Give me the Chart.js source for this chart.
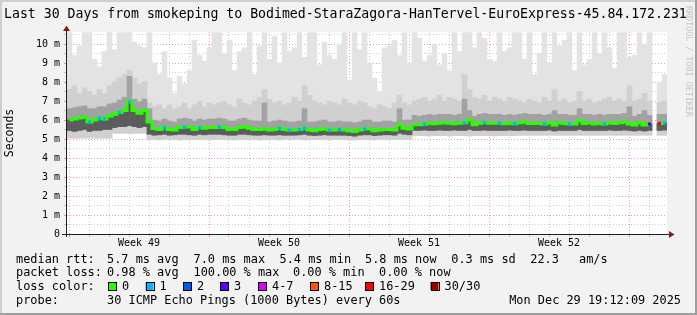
<!DOCTYPE html>
<html><head><meta charset="utf-8">
<script src="https://cdn.jsdelivr.net/npm/chart.js@4.4.1/dist/chart.umd.min.js"></script>
<style>html,body{margin:0;padding:0;background:#f2f2f2;overflow:hidden}canvas{display:block}</style>
</head><body>
<canvas id="c" width="697" height="315"></canvas>
<script>
// ---------- data ----------
const titleText = 'Last 30 Days from smokeping to Bodimed-StaraZagora-HanTervel-EuroExpress-45.84.172.231';
const weekLabels = ['Week 49', 'Week 50', 'Week 51', 'Week 52'];
const weekLabelPos = [3.6, 10.6, 17.6, 24.6];           // days from graph start
const dayGrid = [0.1,1.1,2.1,3.1,4.1,5.1,6.1,7.1,8.1,9.1,10.1,11.1,12.1,13.1,14.1,15.1,16.1,17.1,18.1,19.1,20.1,21.1,22.1,23.1,24.1,25.1,26.1,27.1,28.1,29.1];
const weekGrid = [0.1, 7.1, 14.1, 21.1, 28.1];
const yTicks = [0,0.5,1,1.5,2,2.5,3,3.5,4,4.5,5,5.5,6,6.5,7,7.5,8,8.5,9,9.5,10,10.5];
const binDays = 0.25; // each bin = 6 hours

// median rtt (ms) per bin
const median = [
 6.0, 6.05, 6.1, 6.15, 5.9, 6.0, 6.1, 6.05, 6.2, 6.3,
 6.4, 6.5, 6.95, 6.5, 6.35, 6.5, 5.9, 5.55, 5.5, 5.6,
 5.5, 5.47, 5.6, 5.63, 5.63, 5.5, 5.6, 5.56, 5.6, 5.6,
 5.63, 5.6, 5.5, 5.5, 5.6, 5.63, 5.56, 5.5, 5.5, 5.53,
 5.47, 5.5, 5.56, 5.5, 5.47, 5.47, 5.5, 5.56, 5.47, 5.43,
 5.5, 5.53, 5.47, 5.47, 5.5, 5.47, 5.43, 5.4, 5.47, 5.53,
 5.53, 5.43, 5.47, 5.5, 5.5, 5.47, 5.75, 5.56, 5.53, 5.75,
 5.75, 5.77, 5.83, 5.8, 5.83, 5.85, 5.83, 5.8, 5.83, 5.85,
 6.0, 5.75, 5.83, 5.88, 5.83, 5.83, 5.83, 5.8, 5.83, 5.8,
 5.85, 5.9, 5.82, 5.82, 5.82, 5.79, 5.85, 5.74, 5.85, 5.82,
 5.79, 5.79, 5.96, 5.82, 5.85, 5.79, 5.82, 5.79, 5.85, 5.82,
 5.85, 5.9, 5.79, 5.74, 5.85, 5.74, 5.79, null, 5.82, 5.85];

// lost pings (of 30) per bin
const lossCount = [
 0,0,0,0,1,0,1,1,0,0,
 1,0,1,0,0,0,0,0,0,1,
 0,0,0,1,0,0,1,0,0,0,
 1,0,0,0,0,0,0,0,0,0,
 0,0,1,0,1,0,1,1,0,0,
 0,0,1,0,1,0,0,0,0,1,
 0,0,0,0,0,0,0,0,0,0,
 0,1,0,0,0,0,0,0,0,1,
 0,0,0,1,0,0,1,0,0,1,
 0,0,0,0,0,1,0,0,0,0,
 1,0,0,0,0,0,0,1,0,0,
 0,0,0,0,0,0,3,0,20,1];

// smoke: min / lower dark edge / upper dark edge / upper mid edge / max (ms)
const smokeMin = [
 5.05,5.05,5.05,5.05,5.05,5.05,5.05,5.05,5.05,5.3,
 5.3,5.3,5.3,5.3,5.3,5.3,4.97,4.97,4.95,4.97,
 4.97,4.97,4.95,4.97,4.97,4.97,4.97,4.97,4.95,4.97,
 4.97,4.97,4.97,4.95,4.97,4.97,4.97,4.97,4.95,4.97,
 4.97,4.97,4.95,4.97,4.97,4.97,4.97,4.95,4.97,4.97,
 4.97,4.97,4.95,4.97,4.97,4.97,4.95,4.95,4.97,4.97,
 4.97,4.95,4.97,4.97,4.97,4.97,4.97,4.97,4.97,5.18,
 5.18,5.18,5.16,5.18,5.18,5.18,5.16,5.18,5.18,5.18,
 5.16,5.18,5.18,5.18,5.18,5.16,5.18,5.18,5.18,5.18,
 5.2,5.2,5.2,5.2,5.2,5.2,5.2,5.2,5.2,5.2,
 5.2,5.2,5.2,5.2,5.2,5.2,5.2,5.2,5.2,5.2,
 5.2,5.2,5.2,5.2,5.2,5.2,5.2,null,5.2,5.2];
const smokeLower = [
 5.45,5.4,5.45,5.5,5.4,5.45,5.45,5.5,5.5,5.6,
 5.65,5.65,5.7,5.65,5.6,5.65,5.25,5.2,5.22,5.25,
 5.2,5.22,5.25,5.25,5.22,5.2,5.25,5.22,5.25,5.25,
 5.25,5.22,5.2,5.2,5.25,5.25,5.22,5.2,5.2,5.22,
 5.2,5.2,5.22,5.2,5.2,5.2,5.22,5.25,5.2,5.18,
 5.2,5.22,5.2,5.2,5.2,5.2,5.18,5.15,5.2,5.22,
 5.22,5.18,5.2,5.22,5.22,5.2,5.3,5.25,5.22,5.45,
 5.45,5.47,5.45,5.45,5.47,5.45,5.45,5.47,5.45,5.45,
 5.5,5.45,5.45,5.47,5.45,5.45,5.45,5.45,5.47,5.45,
 5.45,5.47,5.45,5.45,5.45,5.45,5.47,5.42,5.45,5.45,
 5.45,5.45,5.5,5.45,5.45,5.45,5.45,5.45,5.47,5.45,
 5.45,5.47,5.45,5.42,5.45,5.42,5.45,null,5.45,5.47];
const smokeUpper = [
 6.6,6.65,6.7,6.75,6.6,6.6,6.7,6.7,6.85,6.9,
 7.05,7.2,8.3,7.1,6.95,7.1,6.6,6.0,5.95,6.05,
 5.95,5.9,6.05,6.1,6.05,5.95,6.05,6.0,6.05,6.05,
 6.1,6.05,5.95,5.95,6.05,6.1,6.0,5.95,5.95,6.9,
 5.9,5.95,6.0,5.95,5.9,5.9,5.95,6.6,5.9,5.9,
 5.95,6.0,5.9,5.9,5.95,5.9,5.9,5.85,5.9,6.0,
 6.0,5.9,5.9,5.95,5.95,5.9,6.6,6.0,6.0,6.25,
 6.2,6.25,6.3,6.25,6.3,6.3,6.3,6.25,6.3,7.1,
 6.5,6.2,6.3,6.35,6.3,6.3,6.3,6.25,6.3,6.25,
 6.3,6.35,6.3,6.3,6.3,6.25,6.3,6.5,6.3,6.3,
 6.25,6.25,6.6,6.3,6.3,6.25,6.3,6.25,6.3,6.3,
 6.3,6.35,6.7,6.2,6.3,6.5,6.25,null,6.3,6.3];
const smokeHigh = [
 7.6,7.8,7.4,7.7,7.5,7.3,7.6,7.4,7.8,8.0,
 8.2,8.4,8.6,8.2,7.9,8.0,6.9,6.7,6.8,6.6,
 6.8,6.6,6.7,6.9,6.6,6.8,7.0,6.7,6.9,6.8,
 6.9,7.0,6.8,6.7,7.1,6.9,6.8,7.0,7.2,7.6,
 7.1,6.9,7.0,6.8,6.9,7.2,7.0,7.8,7.3,7.0,
 6.9,6.8,7.0,6.9,6.8,7.1,6.9,6.8,7.0,6.9,
 6.7,6.6,6.8,6.7,6.6,6.9,7.3,6.9,6.8,7.0,
 7.1,7.2,7.0,7.1,7.3,7.0,7.2,7.1,7.0,8.4,
 7.6,7.2,7.1,7.3,7.0,7.2,7.1,7.0,7.2,7.1,
 7.0,6.9,7.1,7.0,6.9,7.2,7.0,7.6,7.0,7.1,
 6.9,7.0,7.5,7.0,7.1,6.9,7.0,7.1,7.2,7.0,
 7.1,7.0,7.8,7.0,7.1,7.4,7.0,null,6.9,7.0];
const smokeMax = [
 10.6,9.4,9.9,10.6,10.6,9.2,8.8,9.6,10.6,9.7,
 10.6,10.6,10.6,10.1,9.9,9.8,10.6,9.0,8.4,9.6,
 8.2,7.4,8.3,7.9,8.6,10.2,9.4,9.1,9.8,10.6,
 10.6,9.5,10.2,8.6,9.6,9.8,10.6,8.4,9.9,10.6,
 9.2,10.4,9.0,10.6,9.6,9.8,10.6,9.3,10.6,10.6,
 8.9,10.1,9.4,9.2,10.0,10.6,8.1,10.6,9.7,10.6,
 9.0,8.2,7.5,9.8,9.9,10.2,9.4,10.6,9.0,10.6,
 10.3,9.1,9.4,10.0,8.9,9.5,8.6,10.6,9.6,10.6,
 10.6,9.8,10.6,10.3,9.2,9.1,10.6,9.6,9.8,10.6,
 10.6,9.2,10.6,8.4,9.5,10.6,9.0,10.6,9.9,10.2,
 10.6,8.6,10.6,8.9,9.2,10.6,9.5,10.6,9.8,8.7,
 10.6,10.6,9.3,9.4,10.6,10.0,10.6,null,8.0,8.4];

const lossLegend = ['0', '1', '2', '3', '4-7', '8-15', '16-29', '30/30'];
const lossColors = ['#26ff00', '#00b8ff', '#0059ff', '#5e00ff', '#dd00ff', '#ff5500', '#ff0000', '#a10000'];
const statsRtt = ['5.7 ms avg', '7.0 ms max', '5.4 ms min', '5.8 ms now', '0.3 ms sd', '22.3', 'am/s'];
const statsLoss = ['0.98 % avg', '100.00 % max', '0.00 % min', '0.00 % now'];
const probeText = '30 ICMP Echo Pings (1000 Bytes) every 60s';
const stampText = 'Mon Dec 29 19:12:09 2025';

// ---------- helpers ----------
const MONO = 'DejaVu Sans Mono';
const binX = i => (i + 0.5) * binDays;
function lossClass(n) {
  if (n <= 3) return n;
  if (n <= 7) return 4;
  if (n <= 15) return 5;
  if (n <= 29) return 6;
  return 7;
}
const range = (lo, hi) => lo.map((v, i) => ({x: binX(i), y: (v == null || hi[i] == null) ? null : [v, hi[i]]}));
const barBase = {type: 'bar', grouped: false, barThickness: 5, borderWidth: 0, inflateAmount: 0.3};

const lossPts = median.map((v, i) => ({x: binX(i), y: (v != null && lossCount[i] > 0) ? v : null}));
const lossPtColors = lossCount.map(n => lossColors[lossClass(n)]);

const MGRID = 'rgba(222,79,79,0.55)';
const GRID = 'rgba(143,143,143,0.45)';
const tv = c => (c && c.tick) ? c.tick.value : NaN;
const isWeek = v => weekGrid.some(w => Math.abs(w - v) < 1e-6);
const isInt = v => Math.abs(v - Math.round(v)) < 1e-6;

const deco = {
  id: 'deco',
  beforeDraw(chart) {
    const ctx = chart.ctx, a = chart.chartArea;
    ctx.save();
    ctx.fillStyle = '#f2f2f2';
    ctx.fillRect(0, 0, 697, 315);
    ctx.fillStyle = '#cfcfcf';
    ctx.fillRect(0, 0, 697, 2);
    ctx.fillRect(0, 0, 2, 315);
    ctx.fillStyle = '#9e9e9e';
    ctx.fillRect(0, 313, 697, 2);
    ctx.fillRect(695, 0, 2, 315);
    ctx.fillStyle = '#ffffff';
    ctx.fillRect(a.left, a.top, a.right - a.left, a.bottom - a.top);
    ctx.restore();
  },
  afterDraw(chart) {
    const ctx = chart.ctx, a = chart.chartArea;
    ctx.save();
    ctx.fillStyle = '#1f1f1f';
    ctx.fillRect(a.left - 1, 30, 1, a.bottom - 30 + 3);
    ctx.fillRect(a.left - 5, a.bottom, a.right - a.left + 7, 1);
    ctx.fillStyle = '#801f1f';
    ctx.beginPath();
    ctx.moveTo(a.left - 0.5, 25.5); ctx.lineTo(a.left + 3, 31); ctx.lineTo(a.left - 4, 31); ctx.closePath(); ctx.fill();
    ctx.beginPath();
    ctx.moveTo(a.right + 7.5, a.bottom + 0.5); ctx.lineTo(a.right + 2, a.bottom - 3); ctx.lineTo(a.right + 2, a.bottom + 4); ctx.closePath(); ctx.fill();
    ctx.fillStyle = '#000';
    ctx.textBaseline = 'alphabetic';
    ctx.textAlign = 'left';
    ctx.font = '13.2px "' + MONO + '"';
    ctx.fillText(titleText, 4, 18.3);
    ctx.save();
    ctx.translate(686, 6);
    ctx.rotate(Math.PI / 2);
    ctx.fillStyle = '#c4c4c4';
    ctx.font = '8.4px "' + MONO + '"';
    ctx.fillText('RRDTOOL / TOBI OETIKER', 0, 0);
    ctx.restore();
    ctx.font = '11.9px "' + MONO + '"';
    ctx.fillStyle = '#000';
    const rows = [262.5, 276.3, 290, 303.8];
    ctx.fillText('median rtt:', 16, rows[0]);
    const rttX = [107, 193.5, 279.5, 365, 451.3, 530.3, 579];
    statsRtt.forEach((t, i) => ctx.fillText(t, rttX[i], rows[0]));
    ctx.fillText('packet loss:', 16, rows[1]);
    const lossX = [107, 193.5, 293, 379];
    statsLoss.forEach((t, i) => ctx.fillText(t, lossX[i], rows[1]));
    ctx.fillText('loss color:', 16, rows[2]);
    const sqX = [108, 145.5, 183, 220, 258, 310, 365, 430.5];
    lossLegend.forEach((t, i) => {
      ctx.fillStyle = lossColors[i];
      ctx.fillRect(sqX[i], 282, 8, 8);
      ctx.strokeStyle = '#000';
      ctx.lineWidth = 1;
      ctx.strokeRect(Math.round(sqX[i]) + 0.5, 282.5, 8, 8);
      ctx.fillStyle = '#000';
      ctx.fillText(t, sqX[i] + 14, rows[2]);
    });
    ctx.fillText('probe:', 16, rows[3]);
    ctx.fillText(probeText, 107, rows[3]);
    ctx.textAlign = 'right';
    ctx.fillText(stampText, 681, rows[3]);
    ctx.restore();
  }
};

new Chart(document.getElementById('c'), {
  type: 'bar',
  data: {
    datasets: [
      Object.assign({}, barBase, {label: 'smoke max', data: range(smokeMin, smokeMax), backgroundColor: '#e3e3e3', order: 10}),
      Object.assign({}, barBase, {label: 'smoke mid', data: range(smokeMin, smokeHigh), backgroundColor: '#d0d0d0', order: 9}),
      Object.assign({}, barBase, {label: 'smoke core', data: range(smokeLower, smokeUpper), backgroundColor: '#a2a2a2', order: 8}),
      Object.assign({}, barBase, {label: 'smoke low core', data: range(smokeLower, median), backgroundColor: '#5c5c5c', order: 7}),
      {type: 'line', label: 'median rtt', data: median.map((v, i) => ({x: binX(i), y: v})),
       borderColor: '#26ff00', borderWidth: 3, pointRadius: 0, stepped: 'middle', spanGaps: false, order: 2},
      {type: 'line', label: 'loss', data: lossPts, showLine: false, pointStyle: 'rect',
       pointRadius: 2.2, pointBorderWidth: 0, pointBackgroundColor: lossPtColors, order: 1}
    ]
  },
  options: {
    responsive: false,
    animation: false,
    devicePixelRatio: 1,
    layout: {padding: {left: 4, right: 30, top: 32, bottom: 0}},
    plugins: {legend: {display: false}, tooltip: {enabled: false}, title: {display: false}},
    scales: {
      x: {
        type: 'linear', min: 0, max: 30, position: 'bottom', weight: 0, z: 1, offset: false,
        afterBuildTicks: s => { s.ticks = dayGrid.map(v => ({value: v})); },
        afterFit: s => { s.height = 3; },
        ticks: {display: false},
        grid: {
          offset: false,
          color: c => isWeek(tv(c)) ? MGRID : GRID,
          tickColor: c => isWeek(tv(c)) ? MGRID : GRID,
          lineWidth: 1, tickLength: 3, drawTicks: true
        },
        border: {display: false, dash: [1, 2]}
      },
      x2: {
        type: 'linear', min: 0, max: 30, position: 'bottom', weight: 1, offset: false,
        afterBuildTicks: s => { s.ticks = weekLabelPos.map(v => ({value: v})); },
        afterFit: s => { s.height = 78; },
        grid: {display: false, drawTicks: false, offset: false},
        border: {display: false},
        ticks: {callback: (v, i) => weekLabels[i], autoSkip: false, maxRotation: 0, padding: 0,
                color: '#000', font: {family: MONO, size: 10}}
      },
      y: {
        type: 'linear', min: 0, max: 202 / 19, position: 'left', z: 1,
        afterBuildTicks: s => { s.ticks = yTicks.map(v => ({value: v})); },
        afterFit: s => { s.width = 63; },
        ticks: {callback: v => isInt(v) ? (v === 0 ? '0' : Math.round(v) + ' m') : '',
                autoSkip: false, padding: 4, color: '#000', font: {family: MONO, size: 10}},
        grid: {
          color: c => isInt(tv(c)) ? MGRID : GRID,
          tickColor: c => isInt(tv(c)) ? MGRID : GRID,
          lineWidth: 1, tickLength: 3, drawTicks: true
        },
        border: {display: false, dash: [1, 2]},
        title: {display: true, text: 'Seconds', color: '#000', padding: {top: 0, bottom: 0},
                font: {family: MONO, size: 11.5, lineHeight: 1}}
      }
    }
  },
  plugins: [deco]
});
</script>
</body></html>
